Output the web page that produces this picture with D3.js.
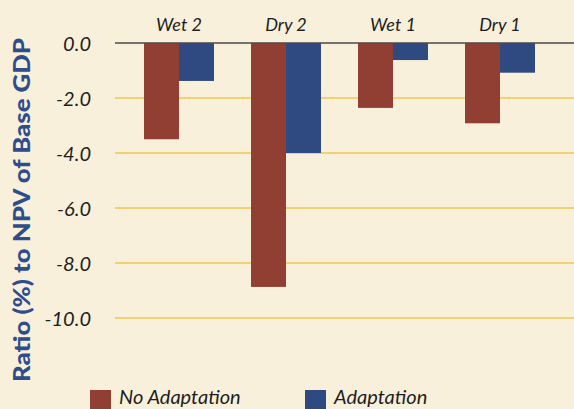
<!DOCTYPE html>
<html><head><meta charset="utf-8">
<script src="https://cdn.jsdelivr.net/npm/d3@7"></script>
<style>
html,body{margin:0;padding:0;background:#f9f0db;}
svg{display:block;}
</style></head>
<body>
<svg id="c" width="574" height="409"></svg>
<script>
const categories = ["Wet 2", "Dry 2", "Wet 1", "Dry 1"];
const seriesNames = ["No Adaptation", "Adaptation"];
const noAdaptation = [-3.5, -8.87, -2.36, -2.92];
const adaptation = [-1.38, -4.0, -0.62, -1.08];
const yTicks = [0, -2, -4, -6, -8, -10];
const colors = ["#923f33", "#2e4a80"];

const svg = d3.select("#c");
svg.append("rect").attr("width", 574).attr("height", 409).attr("fill", "#f9f0db");

const y = d3.scaleLinear().domain([0, -10]).range([43, 318]);
const x = d3.scaleBand().domain(categories).range([125.5, 553.5]).paddingInner(0.346).paddingOuter(0.173);
const xs = d3.scaleBand().domain(seriesNames).range([0, x.bandwidth()]);

// gridlines
svg.append("g").selectAll("line").data(yTicks.filter(d => d !== 0)).join("line")
  .attr("x1", 115).attr("x2", 574)
  .attr("y1", d => y(d)).attr("y2", d => y(d))
  .attr("stroke", "#ecc84c").attr("stroke-width", 1.5);

// y axis labels
const yAxis = d3.axisLeft(y).tickValues(yTicks).tickFormat(d3.format(".1f")).tickSize(0).tickPadding(0);
const ga = svg.append("g").attr("transform", "translate(91,0)").call(yAxis);
ga.select(".domain").remove();
ga.selectAll("text").attr("font-family", "Lato, sans-serif").attr("font-style", "italic")
  .attr("font-size", 20).attr("fill", "#1e1e1e").attr("dy", "0.35em")
  .text(d => d === 0 ? "0.0" : d3.format(".1f")(d).replace("−", "-"));

// bars
const data = categories.map((c, i) => ({c, vals: [noAdaptation[i], adaptation[i]]}));
const g = svg.append("g");
data.forEach(d => {
  d.vals.forEach((v, j) => {
    g.append("rect")
      .attr("x", x(d.c) + xs(seriesNames[j]))
      .attr("y", y(0))
      .attr("width", xs.bandwidth())
      .attr("height", y(v) - y(0))
      .attr("fill", colors[j]);
  });
});

// zero line
svg.append("line").attr("x1", 115).attr("x2", 574).attr("y1", y(0)).attr("y2", y(0))
  .attr("stroke", "#4a4a4a").attr("stroke-width", 1.5);

// category labels
svg.append("g").selectAll("text").data(categories).join("text")
  .attr("x", d => x(d) + x.bandwidth() / 2).attr("y", 31)
  .attr("text-anchor", "middle")
  .attr("font-family", "Lato, sans-serif").attr("font-style", "italic")
  .attr("font-size", 18).attr("fill", "#1e1e1e")
  .text(d => d);

// y title
svg.append("text")
  .attr("transform", "translate(30,210) rotate(-90)")
  .attr("text-anchor", "middle")
  .attr("font-family", "Lato, sans-serif").attr("font-weight", 900)
  .attr("font-size", 23).attr("fill", "#2e4d8c")
  .attr("textLength", 344).attr("lengthAdjust", "spacingAndGlyphs")
  .text("Ratio (%) to NPV of Base GDP");

// legend
const legX = [90, 305];
seriesNames.forEach((s, i) => {
  svg.append("rect").attr("x", legX[i]).attr("y", 390).attr("width", 21).attr("height", 21).attr("fill", colors[i]);
  svg.append("text").attr("x", legX[i] + 29).attr("y", 404)
    .attr("font-family", "Lato, sans-serif").attr("font-style", "italic")
    .attr("font-size", 20).attr("fill", "#1e1e1e").text(s);
});
</script>
</body></html>
